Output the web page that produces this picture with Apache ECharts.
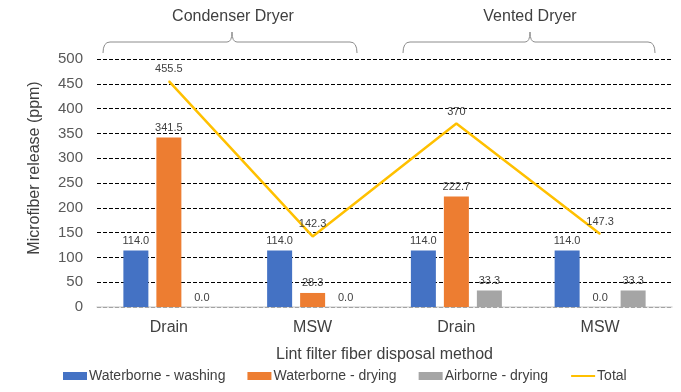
<!DOCTYPE html>
<html>
<head>
<meta charset="utf-8">
<script src="https://cdn.jsdelivr.net/npm/echarts@6/dist/echarts.min.js"></script>
<style>
  html, body { margin: 0; padding: 0; background: #fff; }
  #chart { width: 681px; height: 392px; }
</style>
</head>
<body>
<div id="chart"></div>
<script>
// disposal method per dryer type
var categories = ['Drain', 'MSW', 'Drain', 'MSW'];
var washing = [114.0, 114.0, 114.0, 114.0];
var drying = [341.5, 28.3, 222.7, 0.0];
var airborne = [0.0, 0.0, 33.3, 33.3];
var total = [455.5, 142.3, 370, 147.3];
var groups = ['Condenser Dryer', 'Vented Dryer'];

var FONT = '"Liberation Sans", Arial, sans-serif';

function barSeries(name, data, color) {
  return {
    name: name,
    type: 'bar',
    data: data,
    barWidth: 25,
    barGap: '32%',
    itemStyle: { color: color },
    label: {
      show: true, position: 'top', distance: 4,
      color: '#404040', fontSize: 11, fontFamily: FONT,
      formatter: function (p) { return p.value.toFixed(1); }
    }
  };
}

// curly brace above a group of categories, built from curves + lines
function brace(x1, x2, xm) {
  var yb = 53, yl = 42, yt = 32;
  var st = { stroke: '#8c8c8c', lineWidth: 1, fill: null };
  function curve(ax, ay, cx, cy, bx, by) {
    return { type: 'bezierCurve', silent: true, shape: { x1: ax, y1: ay, cpx1: cx, cpy1: cy, x2: bx, y2: by }, style: st };
  }
  function seg(ax, ay, bx, by) {
    return { type: 'line', silent: true, shape: { x1: ax, y1: ay, x2: bx, y2: by }, style: st };
  }
  return [
    curve(x1, yb, x1, yl, x1 + 7, yl),
    seg(x1 + 7, yl, xm - 5, yl),
    curve(xm - 5, yl, xm, yl, xm, yt),
    curve(xm, yt, xm, yl, xm + 5, yl),
    seg(xm + 5, yl, x2 - 7, yl),
    curve(x2 - 7, yl, x2, yl, x2, yb)
  ];
}

var graphics = [].concat(
  brace(103, 357, 232),
  brace(403, 655, 530),
  [
    { type: 'text', style: { text: groups[0], x: 233, y: 17, textAlign: 'center', textVerticalAlign: 'middle', font: '16px ' + FONT, fill: '#404040' } },
    { type: 'text', style: { text: groups[1], x: 530, y: 17, textAlign: 'center', textVerticalAlign: 'middle', font: '16px ' + FONT, fill: '#404040' } }
  ]
);

var chart = echarts.init(document.getElementById('chart'));
chart.setOption({
  animation: false,
  textStyle: { fontFamily: FONT },
  grid: { left: 97, right: 9, top: 59, bottom: 85 },
  legend: {
    bottom: 4, left: 58, itemGap: 22, itemWidth: 24, itemHeight: 8,
    textStyle: { fontSize: 14, color: '#404040', fontFamily: FONT, padding: [0, 0, 0, -3] },
    data: [
      { name: 'Waterborne - washing', icon: 'rect' },
      { name: 'Waterborne - drying', icon: 'rect' },
      { name: 'Airborne - drying', icon: 'rect' },
      { name: 'Total', itemStyle: { opacity: 0 } }
    ]
  },
  xAxis: {
    type: 'category',
    data: categories,
    name: 'Lint filter fiber disposal method',
    nameLocation: 'middle', nameGap: 40,
    nameTextStyle: { fontSize: 16, color: '#404040' },
    axisLine: { lineStyle: { color: '#d9d9d9', width: 1.5 } },
    axisTick: { show: false },
    axisLabel: { fontSize: 16, color: '#404040', margin: 13 }
  },
  yAxis: {
    type: 'value',
    min: 0, max: 500, interval: 50,
    name: 'Microfiber release (ppm)',
    nameLocation: 'middle', nameGap: 54,
    nameTextStyle: { fontSize: 16, color: '#404040', padding: [0, 0, 0, 30] },
    axisLine: { show: false },
    axisTick: { show: false },
    axisLabel: { fontSize: 15, color: '#595959', margin: 14 },
    splitLine: { lineStyle: { color: '#000', type: [4, 2], width: 1 } }
  },
  series: [
    barSeries('Waterborne - washing', washing, '#4472C4'),
    barSeries('Waterborne - drying', drying, '#ED7D31'),
    barSeries('Airborne - drying', airborne, '#A5A5A5'),
    {
      name: 'Total',
      type: 'line',
      data: total,
      symbol: 'circle',
      symbolSize: 1,
      lineStyle: { color: '#FFC000', width: 2.5 },
      itemStyle: { color: '#FFC000' },
      label: { show: true, position: 'top', distance: 6, color: '#404040', fontSize: 11 },
      z: 5
    }
  ],
  graphic: graphics
});
</script>
</body>
</html>
